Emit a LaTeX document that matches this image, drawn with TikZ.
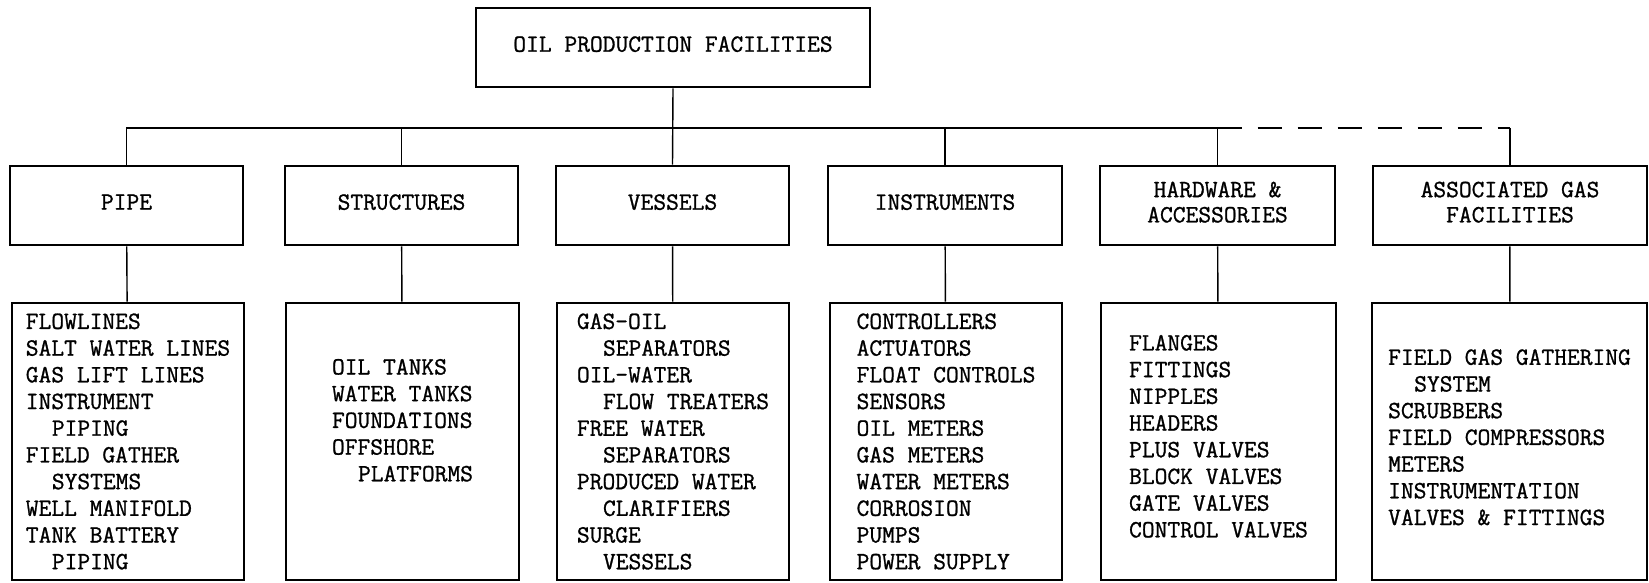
\documentclass[tikz,border=0pt]{standalone}
\usepackage{fontspec}
\newfontfamily\typer[FakeBold=1]{Latin Modern Mono}
\newcommand{\indt}{\hspace*{1.05em}}
\tikzset{
  box/.style={draw, line width=1.4pt, inner sep=0pt, minimum height=39.5pt,
    align=center, text depth=3.5pt, font=\fontsize{12.4}{12.6}\selectfont\typer},
  listbox/.style={draw, line width=1.4pt, inner sep=0pt, minimum height=138.5pt,
    align=left, font=\fontsize{12.4}{13.35}\selectfont\typer},
  conn/.style={line width=0.7pt},
}
\begin{document}
\begin{tikzpicture}[x=0.5pt, y=-0.5pt]
  \useasboundingbox (0,0) rectangle (1649,583);
  % top
  \node[box, minimum width=197pt] (oil) at (673,47.5) {OIL PRODUCTION FACILITIES};
  % second row
  \node[box, minimum width=116.5pt] (pipe) at (126.5,205.5) {PIPE};
  \node[box, minimum width=116.5pt] (struct) at (401.5,205.5) {STRUCTURES};
  \node[box, minimum width=116.5pt] (vessels) at (672.5,205.5) {VESSELS};
  \node[box, minimum width=117pt] (instr) at (945,205.5) {INSTRUMENTS};
  \node[box, minimum width=117.5pt] (hardw) at (1217.5,205.5) {HARDWARE \&\\ACCESSORIES};
  \node[box, minimum width=137pt] (gas) at (1510,205.5) {ASSOCIATED GAS\\FACILITIES};
  % lists
  \node[listbox, minimum width=116pt] (pipelist) at (128,441.5)
    {FLOWLINES\\SALT WATER LINES\\GAS LIFT LINES\\INSTRUMENT\\\indt PIPING\\
     FIELD GATHER\\\indt SYSTEMS\\WELL MANIFOLD\\TANK BATTERY\\\indt PIPING};
  \node[listbox, minimum width=116.5pt] (structlist) at (402.5,441.5)
    {OIL TANKS\\WATER TANKS\\FOUNDATIONS\\OFFSHORE\\\indt PLATFORMS\\[8pt]\mbox{}};
  \node[listbox, minimum width=116pt] (vessellist) at (673,441.5)
    {GAS-OIL\\\indt SEPARATORS\\OIL-WATER\\\indt FLOW TREATERS\\FREE WATER\\
     \indt SEPARATORS\\PRODUCED WATER\\\indt CLARIFIERS\\SURGE\\\indt VESSELS};
  \node[listbox, minimum width=116pt] (instrlist) at (946,441.5)
    {CONTROLLERS\\ACTUATORS\\FLOAT CONTROLS\\SENSORS\\OIL METERS\\GAS METERS\\
     WATER METERS\\CORROSION\\PUMPS\\POWER SUPPLY};
  \node[listbox, minimum width=117.5pt] (hardwlist) at (1218.5,441.5)
    {FLANGES\\FITTINGS\\NIPPLES\\HEADERS\\PLUS VALVES\\BLOCK VALVES\\
     GATE VALVES\\CONTROL VALVES\\[-8pt]\mbox{}};
  \node[listbox, minimum width=137.5pt] (gaslist) at (1509.5,441.5)
    {FIELD GAS GATHERING\\\indt SYSTEM\\SCRUBBERS\\FIELD COMPRESSORS\\METERS\\
     INSTRUMENTATION\\VALVES \& FITTINGS\\[-9pt]\mbox{}};
  % connectors
  \coordinate (bus) at (0,128);
  \draw[conn] (oil.south) -- (vessels.north);
  \draw[conn] (pipe.north) -- (pipe.north |- bus) -- (hardw.north |- bus);
  \foreach \n in {struct,instr,hardw}
    \draw[conn] (\n.north) -- (\n.north |- bus);
  \draw[conn, dash pattern=on 12pt off 8pt] (hardw.north |- bus) -- (gas.north |- bus);
  \draw[conn] (gas.north |- bus) -- (gas.north);
  \draw[conn] (pipe) -- (pipelist);
  \draw[conn] (struct) -- (structlist);
  \draw[conn] (vessels) -- (vessellist);
  \draw[conn] (instr) -- (instrlist);
  \draw[conn] (hardw) -- (hardwlist);
  \draw[conn] (gas) -- (gaslist);
\end{tikzpicture}
\end{document}
